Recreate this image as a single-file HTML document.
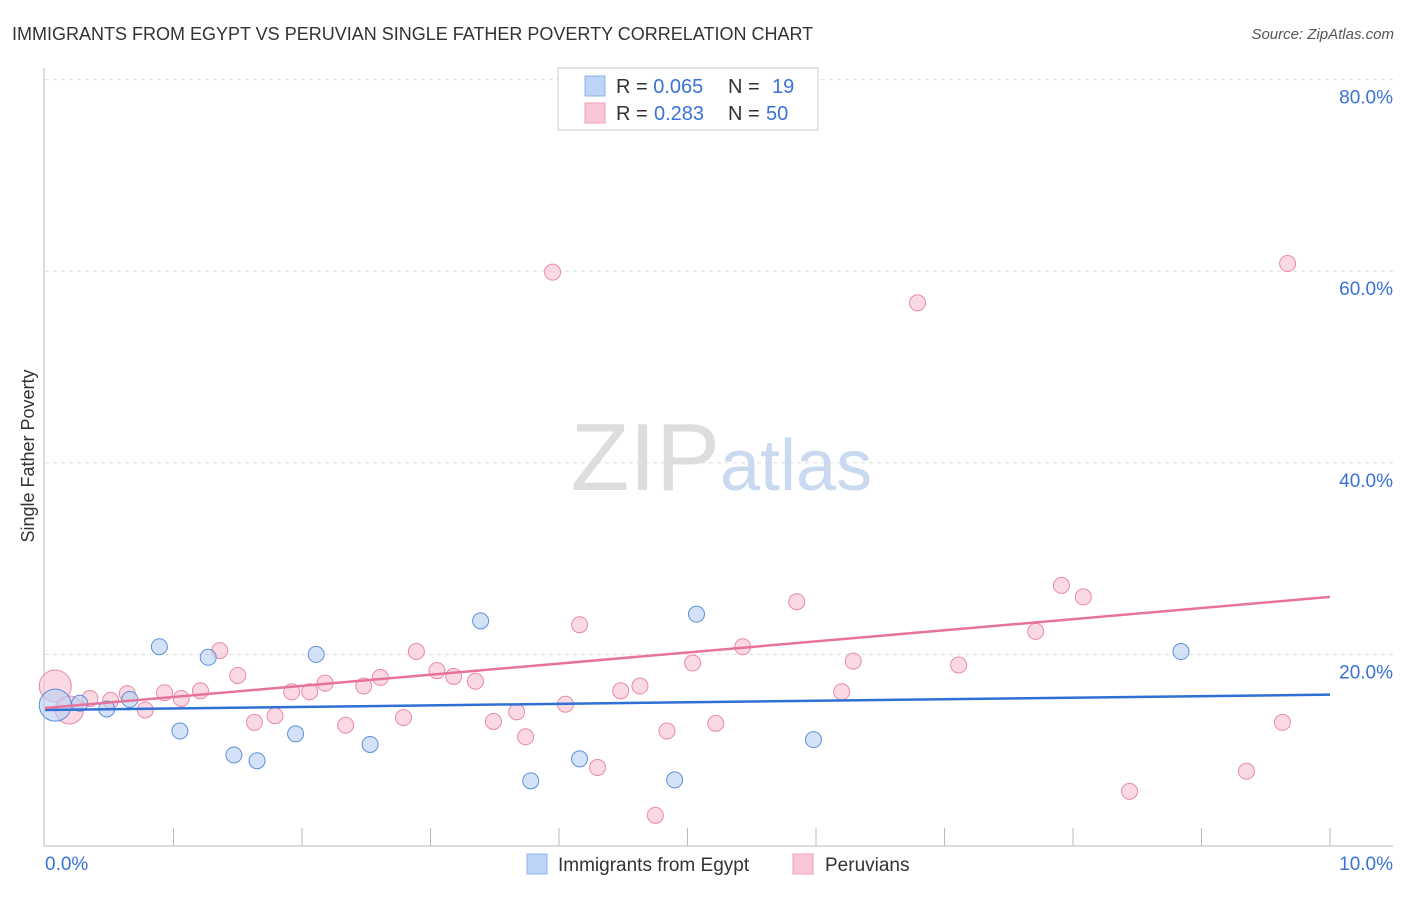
<!DOCTYPE html>
<html><head><meta charset="utf-8"><style>
body{margin:0;background:#fff;font-family:"Liberation Sans",sans-serif;}
svg text{font-family:"Liberation Sans",sans-serif;}
</style></head><body>
<svg width="1406" height="892" viewBox="0 0 1406 892">
<text x="12" y="40" font-size="18" fill="#333">IMMIGRANTS FROM EGYPT VS PERUVIAN SINGLE FATHER POVERTY CORRELATION CHART</text>
<text x="1394" y="39" font-size="15" fill="#555" font-style="italic" text-anchor="end">Source: ZipAtlas.com</text>
<g id="grid"></g>
<g id="axes"></g>
<text x="720" y="490" font-size="96" fill="#ddd" text-anchor="end" font-family="Liberation Serif">ZIP</text>
<text x="720" y="490" font-size="72" fill="#c9d9f0">atlas</text>
<text transform="translate(34,456) rotate(-90)" font-size="18" fill="#333" text-anchor="middle">Single Father Poverty</text>
<g id="marks"></g>
<g>
<rect x="558" y="68" width="260" height="62" fill="#fff" stroke="#ccc"/>
<rect x="585" y="76" width="20" height="20" fill="#bcd4f6" stroke="#8fb2e8"/>
<rect x="585" y="103" width="20" height="20" fill="#f9c8d7" stroke="#f0a0ba"/>
<text x="616" y="93" font-size="20" fill="#333">R = <tspan fill="#3a72d6">0.065</tspan><tspan x="728">N = </tspan><tspan fill="#3a72d6" x="772">19</tspan></text>
<text x="616" y="120" font-size="20" fill="#333">R = <tspan fill="#3a72d6" x="654">0.283</tspan><tspan x="728">N = </tspan><tspan fill="#3a72d6" x="766">50</tspan></text>
</g>
<g>
<rect x="527" y="854" width="20" height="20" fill="#bcd4f6" stroke="#8fb2e8"/>
<text x="558" y="871" font-size="19" fill="#333">Immigrants from Egypt</text>
<rect x="793" y="854" width="20" height="20" fill="#f9c8d7" stroke="#f0a0ba"/>
<text x="825" y="871" font-size="19" fill="#333">Peruvians</text>
</g>
</svg>
<script>
const blueX=[0.08,0.27,0.48,0.66,0.89,1.05,1.27,1.47,1.65,1.95,2.11,2.53,3.39,3.78,4.16,4.90,5.07,5.98,8.84];
const blueY=[14.7,14.9,14.3,15.3,20.8,12.0,19.7,9.5,8.9,11.7,20.0,10.6,23.5,6.8,9.1,6.9,24.2,11.1,20.3];
const pinkX=[0.08,0.19,0.35,0.51,0.64,0.78,0.93,1.06,1.21,1.36,1.50,1.63,1.79,1.92,2.06,2.18,2.34,2.48,2.61,2.79,2.89,3.05,3.18,3.35,3.49,3.67,3.74,3.95,4.05,4.16,4.30,4.48,4.63,4.75,4.84,5.04,5.22,5.43,5.85,6.20,6.29,6.79,7.11,7.71,7.91,8.08,8.44,9.35,9.63,9.67];
const pinkY=[16.7,14.2,15.4,15.2,15.9,14.2,16.0,15.4,16.2,20.4,17.8,12.9,13.6,16.1,16.1,17.0,12.6,16.7,17.6,13.4,20.3,18.3,17.7,17.2,13.0,14.0,11.4,59.9,14.8,23.1,8.2,16.2,16.7,3.2,12.0,19.1,12.8,20.8,25.5,16.1,19.3,56.7,18.9,22.4,27.2,26.0,5.7,7.8,12.9,60.8];
const blueSize=[16,8,8,8,8,8,8,8,8,8,8,8,8,8,8,8,8,8,8];
const pinkSize=[16,14,8,8,8,8,8,8,8,8,8,8,8,8,8,8,8,8,8,8,8,8,8,8,8,8,8,8,8,8,8,8,8,8,8,8,8,8,8,8,8,8,8,8,8,8,8,8,8,8];
const blueTrend=[14.2,15.8];
const pinkTrend=[14.4,26.0];
const yTicks=[20,40,60,80];
const yTickLabels=["20.0%","40.0%","60.0%","80.0%"];
const xTicks=[0,1,2,3,4,5,6,7,8,9,10];
const NS="http://www.w3.org/2000/svg";
const sx=v=>45+v*128.5, sy=v=>846-v*9.58;
function mk(t,a,p){const e=document.createElementNS(NS,t);for(const k in a)e.setAttribute(k,a[k]);p.appendChild(e);return e;}
const grid=document.getElementById('grid'),axes=document.getElementById('axes'),marks=document.getElementById('marks');
yTicks.forEach((v,i)=>{
 const l=mk('line',{x1:45,x2:1393,y1:sy(v),y2:sy(v),stroke:'#ddd','stroke-dasharray':'4,4'},grid);
 
 
 const t=mk('text',{x:1393,y:sy(v)+24,'font-size':19,fill:'#3a72d6','text-anchor':'end'},axes);
 t.textContent=yTickLabels[i];
 
 
});
const la=mk('line',{x1:44,x2:44,y1:68,y2:846,stroke:'#bbb'},axes);


const lb=mk('line',{x1:44,x2:1393,y1:846,y2:846,stroke:'#bbb'},axes);


xTicks.forEach(v=>{if(v===0)return;
 const t=mk('line',{x1:sx(v),x2:sx(v),y1:828,y2:846,stroke:'#bbb'},axes);
 
 
});
const x0=mk('text',{x:45,y:870,'font-size':19,fill:'#3a72d6'},axes);x0.textContent='0.0%';


const x1=mk('text',{x:1393,y:870,'font-size':19,fill:'#3a72d6','text-anchor':'end'},axes);x1.textContent='10.0%';


function pts(X,Y,S,fill,stroke,name){X.forEach((x,i)=>{
 const c=mk('circle',{cx:sx(x),cy:sy(Y[i]),r:S[i],fill:fill,stroke:stroke,'stroke-width':1,'fill-opacity':0.6},marks);
 
 
});}
pts(pinkX,pinkY,pinkSize,'#f7bfd0','#e98aa8','peruvian-point');
pts(blueX,blueY,blueSize,'#b7cff3','#5c8fdc','egypt-point');
const tb=mk('line',{x1:sx(0),x2:sx(10),y1:sy(blueTrend[0]),y2:sy(blueTrend[1]),stroke:'#2f6fd6','stroke-width':2.5},marks);


const tp=mk('line',{x1:sx(0),x2:sx(10),y1:sy(pinkTrend[0]),y2:sy(pinkTrend[1]),stroke:'#e8739a','stroke-width':2.5},marks);


</script>
</body></html>
